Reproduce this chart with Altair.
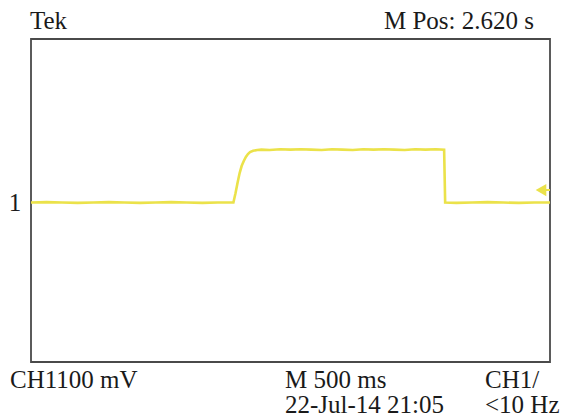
import altair as alt
import pandas as pd

# Trace samples (time in s, level in mV)
times = [0.00, 0.15, 0.30, 0.45, 0.60, 0.75, 0.90, 1.05, 1.20, 1.35, 1.50, 1.65, 1.80, 1.95,
         1.97, 1.99, 2.01, 2.03, 2.05, 2.07, 2.09, 2.11, 2.14, 2.18, 2.22, 2.30, 2.40, 2.50,
         2.60, 2.70, 2.80, 2.90, 3.00, 3.10, 3.20, 3.30, 3.40, 3.50, 3.60, 3.70, 3.80, 3.90,
         3.98, 3.99, 4.10, 4.25, 4.40, 4.55, 4.70, 4.85, 5.00]
levels = [-5, -4, -5, -6, -5, -4, -5, -6, -5, -4, -5, -6, -5, -5,
          18, 44, 68, 86, 98, 108, 115, 120, 123, 125, 126, 125, 127, 126,
          127, 126, 125, 127, 126, 125, 127, 126, 127, 126, 125, 127, 126, 127,
          126, -5, -6, -5, -4, -5, -6, -5, -5]
trigger_level = [26]

top_labels = ["Tek", "M Pos: 2.620 s"]
bottom_labels = ["CH1100 mV", "M 500 ms", "22-Jul-14 21:05", "CH1/", "<10 Hz"]
channel_marker = ["1"]

W, H = 519, 323
YELLOW = "#ebe24a"
FONT = "'Liberation Serif', 'Times New Roman', 'DejaVu Serif', serif"
FS = 25

trace_df = pd.DataFrame({"t": times, "v": levels})
xs = alt.Scale(domain=[0, 5], nice=False, zero=False)
ys = alt.Scale(domain=[-400, 400], nice=False, zero=False)

trace = alt.Chart(trace_df).mark_line(color=YELLOW, strokeWidth=2.6, interpolate="linear").encode(
    x=alt.X("t:Q", scale=xs, axis=None),
    y=alt.Y("v:Q", scale=ys, axis=None),
)

trig_df = pd.DataFrame({"v": trigger_level})
trig_point = alt.Chart(trig_df).mark_point(
    shape="triangle-left", filled=True, color=YELLOW, size=150, opacity=1
).encode(x=alt.value(510), y=alt.Y("v:Q", scale=ys, axis=None))
trig_line = alt.Chart(trig_df).mark_rule(color=YELLOW, strokeWidth=2).encode(
    x=alt.value(512), x2=alt.value(519), y=alt.Y("v:Q", scale=ys, axis=None)
)


def label(text, x, y, align="left"):
    return alt.Chart(pd.DataFrame({"s": [text]})).mark_text(
        font=FONT, fontSize=FS, color="#1a1a1a", align=align, baseline="alphabetic"
    ).encode(text="s:N", x=alt.value(x), y=alt.value(y))


texts = [
    label(top_labels[0], -1, -10),
    label(top_labels[1], 503, -10, "right"),
    label(channel_marker[0], -16, 172, "center"),
    label(bottom_labels[0], -21, 349),
    label(bottom_labels[1], 254, 349),
    label(bottom_labels[2], 254, 374),
    label(bottom_labels[3], 454, 349),
    label(bottom_labels[4], 454, 374),
]

chart = alt.layer(trace, trig_line, trig_point, *texts).properties(
    width=W, height=H,
    autosize=alt.AutoSizeParams(type="none"),
    padding={"left": 31, "top": 39, "right": 13, "bottom": 56},
    background="white",
).configure_view(stroke="#4a4a4a", strokeWidth=1.8)

chart.save("out.html", embed_options={"renderer": "svg", "actions": False})
